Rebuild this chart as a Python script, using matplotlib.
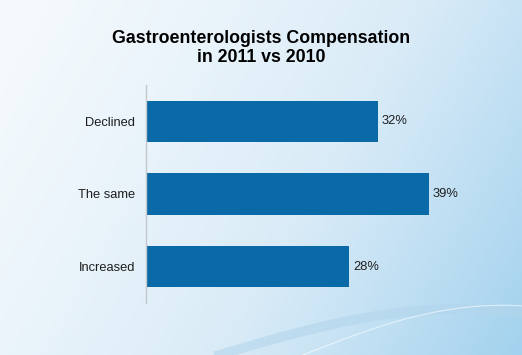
import numpy as np
import matplotlib
matplotlib.use("Agg")
import matplotlib.pyplot as plt
from matplotlib import colors

categories = ["Declined", "The same", "Increased"]
values = [32, 39, 28]
labels = ["32%", "39%", "28%"]

bar_color = "#0a6aa8"
plt.rcParams["font.family"] = ["Liberation Sans Narrow", "Liberation Sans", "DejaVu Sans"]

fig = plt.figure(figsize=(5.22, 3.55), dpi=100)

# background gradient
bg = fig.add_axes([0, 0, 1, 1])
yy, xx = np.mgrid[0:1:200j, 0:1:300j]
u = np.clip(0.72 * xx + 0.28 * yy, 0, 1) ** 1.3
cmap = colors.LinearSegmentedColormap.from_list("bg", ["#f5fafd", "#d9ebf7", "#a3d2ee"])
bg.imshow(u, cmap=cmap, aspect="auto", extent=[0, 1, 0, 1], origin="upper")
# swoosh in the lower right
t = np.linspace(0, 1, 100)
bg.plot(0.42 + 0.58 * t, 0.0 + 0.13 * np.sin(t * np.pi * 0.62), color="#b3d5ec", lw=7, alpha=0.6)
bg.plot(0.58 + 0.42 * t, 0.0 + 0.14 * np.sin(t * np.pi * 0.55), color="white", lw=0.8, alpha=0.6)
bg.set_xlim(0, 1)
bg.set_ylim(0, 1)
bg.axis("off")

ax = fig.add_axes([146 / 522, 52 / 355, 348 / 522, 218 / 355])
ax.patch.set_alpha(0)
y = np.arange(len(categories))
ax.barh(y, values, height=0.566, color=bar_color)
ax.set_ylim(2.5, -0.5)
ax.set_xlim(0, 48)
ax.set_yticks(y)
ax.set_yticklabels(categories, fontsize=9.3, color="#1e1e1e")
ax.set_xticks([])
ax.tick_params(axis="y", length=0, pad=8)
for s in ["top", "right", "bottom"]:
    ax.spines[s].set_visible(False)
ax.spines["left"].set_color("#c4c8cc")
ax.spines["left"].set_linewidth(1)

for yi, v, lab in zip(y, values, labels):
    ax.text(v + 0.55, yi, lab, va="center", ha="left", fontsize=9.3, color="#1e1e1e")

fig.text(0.5, 0.866, "Gastroenterologists Compensation\nin 2011 vs 2010", ha="center", va="center",
         fontsize=12.8, fontweight="bold", family=["Liberation Sans", "DejaVu Sans"],
         linespacing=1.15, color="black")

fig.savefig("out.png", dpi=100)
